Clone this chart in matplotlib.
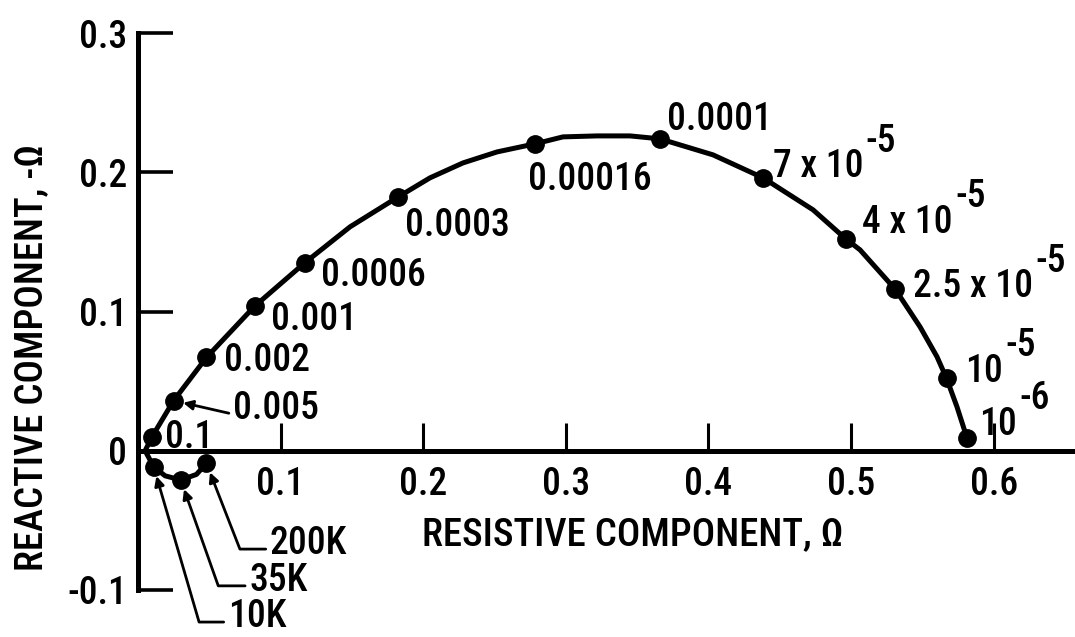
import matplotlib
matplotlib.use("Agg")
import matplotlib.pyplot as plt
from matplotlib import font_manager as fm
from matplotlib.transforms import offset_copy

# ---------------- data ----------------
upper_labels = ["0.1", "0.005", "0.002", "0.001", "0.0006", "0.0003", "0.00016",
                "0.0001", "7 x 10", "4 x 10", "2.5 x 10", "10", "10"]
upper_exps = ["", "", "", "", "", "", "", "", "-5", "-5", "-5", "-5", "-6"]
upper_R = [0.0098, 0.025, 0.048, 0.082, 0.117, 0.182, 0.2784, 0.366, 0.4383, 0.4965, 0.531, 0.567, 0.5813]
upper_X = [0.010, 0.036, 0.067, 0.104, 0.135, 0.182, 0.2204, 0.224, 0.196, 0.152, 0.116, 0.052, 0.0093]

lower_labels = ["10K", "35K", "200K"]
lower_R = [0.011, 0.030, 0.048]
lower_X = [-0.0115, -0.021, -0.009]

# traced path of the drawn curve (200K end -> 10^-6 end)
curve_R = [0.048, 0.041, 0.030, 0.019, 0.011, 0.005, 0.0098, 0.025, 0.048, 0.082, 0.117,
           0.1487, 0.182, 0.2048, 0.2279, 0.2518, 0.2784, 0.298, 0.3219, 0.345, 0.366,
           0.4032, 0.4383, 0.4734, 0.4965, 0.5063, 0.531, 0.5484, 0.5603, 0.567, 0.5743,
           0.5813]
curve_X = [-0.009, -0.017, -0.021, -0.018, -0.0115, 0.0, 0.010, 0.036, 0.067, 0.104, 0.135,
           0.1608, 0.182, 0.196, 0.2067, 0.2146, 0.2204, 0.2254, 0.2261, 0.2261, 0.224,
           0.2125, 0.196, 0.173, 0.152, 0.1443, 0.116, 0.089, 0.0675, 0.052, 0.0316,
           0.0093]

xticks = [0.1, 0.2, 0.3, 0.4, 0.5, 0.6]
xtick_labels = ["0.1", "0.2", "0.3", "0.4", "0.5", "0.6"]
yticks = [-0.1, 0.0, 0.1, 0.2, 0.3]
ytick_labels = ["-0.1", "0", "0.1", "0.2", "0.3"]

x_title = "RESISTIVE COMPONENT, \u03a9"
y_title = "REACTIVE COMPONENT, -\u03a9"

# ---------------- font ----------------
entries = fm.fontManager.ttflist
avail = sorted({f.name for f in entries})
pref = ["Roboto Condensed", "Liberation Sans Narrow", "DejaVu Sans Condensed",
        "Noto Sans Condensed", "Open Sans Condensed"]
FONT = next((p for p in pref if p in avail), None)
if FONT is None:
    cond = [a for a in avail if ("Condensed" in a or "Narrow" in a)]
    FONT = cond[0] if cond else "DejaVu Sans"
plt.rcParams["font.family"] = [FONT, "DejaVu Sans"]
plt.rcParams["font.weight"] = "medium"
plt.rcParams["axes.labelweight"] = "medium"
FS = 27
FS_TITLE = 28
CAP = 0.711 * FS  # approximate digit height in points

# ---------------- figure / axes ----------------
W, H = 1075, 637
fig = plt.figure(figsize=(W / 100, H / 100), dpi=100)
fig.patch.set_facecolor("white")
ax = fig.add_axes([138 / W, (H - 590) / H, (W - 138) / W, (590 - 33) / H])
ax.set_xlim(0, 937 / 1426)
ax.set_ylim(-0.1, 0.3)
ax.patch.set_alpha(0)

for s in ("top", "right"):
    ax.spines[s].set_visible(False)
ax.spines["bottom"].set_position(("data", 0))
for s in ("left", "bottom"):
    ax.spines[s].set_linewidth(3.6)
    ax.spines[s].set_capstyle("projecting")

ax.set_xticks(xticks)
ax.set_xticklabels(xtick_labels, fontsize=FS)
ax.set_yticks(yticks)
ax.set_yticklabels(ytick_labels, fontsize=FS)
ax.tick_params(axis="x", direction="in", length=20, width=2.2, pad=11)
ax.tick_params(axis="y", direction="in", length=25, width=2.6, pad=8)

ax.set_xlabel(x_title, fontsize=FS_TITLE)
ax.xaxis.set_label_coords(0.528, 0.100)
ax.xaxis.label.set_va("center")
ax.set_ylabel(y_title, fontsize=FS_TITLE)
ax.yaxis.set_label_coords(-0.113, 0.417)
ax.yaxis.label.set_va("center")

# ---------------- curve and points ----------------
ax.plot(curve_R, curve_X, color="black", lw=3.6, solid_joinstyle="round",
        solid_capstyle="round", zorder=3, clip_on=False)
ax.plot(upper_R, upper_X, "o", color="black", ms=12.5, zorder=4, clip_on=False)
ax.plot(lower_R, lower_X, "o", color="black", ms=12.5, zorder=4, clip_on=False)

# text placed by the vertical centre of its digits
tdata = offset_copy(ax.transData, fig=fig, x=0, y=-CAP / 2, units="points")

# ---------------- labels ----------------
upper_label_pos = [(0.019, 0.0115), (0.0666, 0.0323), (0.0605, 0.0668), (0.093, 0.096),
                   (0.128, 0.128), (0.187, 0.1637), (0.2735, 0.1967), (0.371, 0.2398),
                   (0.4453, 0.206), (0.508, 0.166), (0.5435, 0.120), (0.580, 0.059),
                   (0.590, 0.021)]

arrow_kw = dict(arrowstyle="-|>", color="black", lw=2.0, shrinkA=1, shrinkB=7,
                relpos=(0, 0.35), mutation_scale=14)

for i, (lab, exp) in enumerate(zip(upper_labels, upper_exps)):
    tx, ty = upper_label_pos[i]
    if lab == "0.005":
        t = ax.annotate(lab, xy=(upper_R[i], upper_X[i]), xytext=(tx, ty),
                        textcoords=tdata, fontsize=FS, ha="left", va="baseline",
                        zorder=5, arrowprops=dict(arrow_kw))
    else:
        t = ax.text(tx, ty, lab, fontsize=FS, ha="left", va="baseline", zorder=5,
                    transform=tdata)
    if exp:
        ax.annotate(exp, xy=(1, 1), xycoords=t, xytext=(1.5, 5),
                    textcoords="offset points", fontsize=FS, ha="left", va="center")

lower_label_pos = [(0.063, -0.117), (0.078, -0.091), (0.0925, -0.0646)]
lower_angles = [-73.7, -70.5, -68.7]
for i, lab in enumerate(lower_labels):
    kw = dict(arrow_kw)
    kw["connectionstyle"] = "angle,angleA=0,angleB=%g,rad=0" % lower_angles[i]
    ax.annotate(lab, xy=(lower_R[i], lower_X[i]), xytext=lower_label_pos[i],
                textcoords=tdata, fontsize=FS, ha="left", va="baseline",
                annotation_clip=False, arrowprops=kw)

fig.savefig("out.png", dpi=100, facecolor="white")
